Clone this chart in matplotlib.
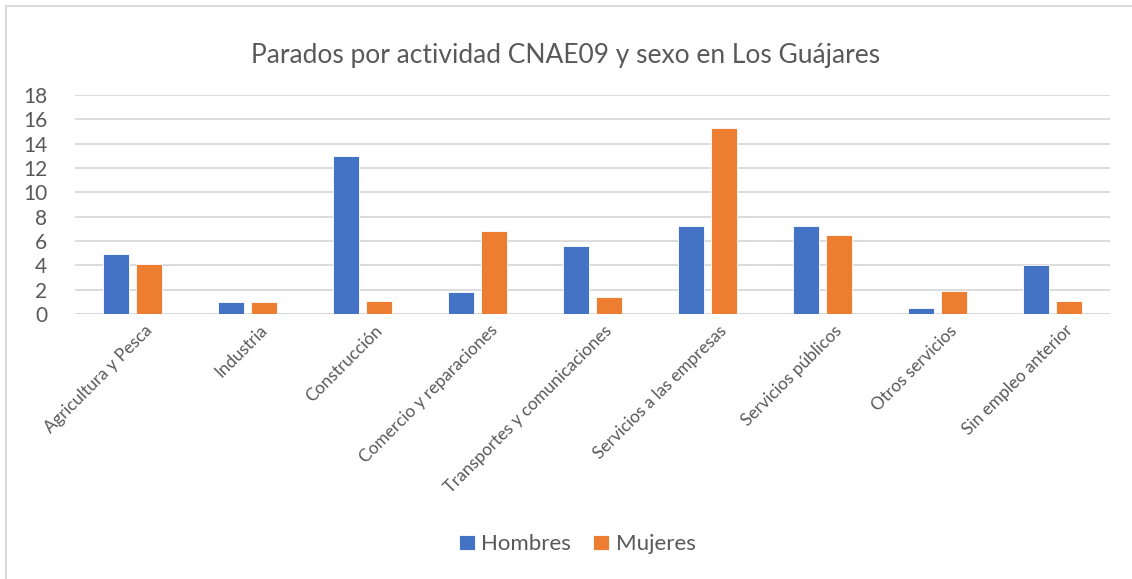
import matplotlib.pyplot as plt
import numpy as np
from matplotlib.patches import Rectangle

plt.rcParams['font.family'] = ['Lato', 'DejaVu Sans']

categorias = ["Agricultura y Pesca", "Industria", "Construcción",
              "Comercio y reparaciones", "Transportes y comunicaciones",
              "Servicios a las empresas", "Servicios públicos",
              "Otros servicios", "Sin empleo anterior"]
hombres = [4.9, 0.97, 12.95, 1.83, 5.57, 7.25, 7.25, 0.5, 4.0]
mujeres = [4.15, 0.97, 1.06, 6.83, 1.41, 15.29, 6.47, 1.9, 1.06]

azul = "#4472C4"
naranja = "#ED7D31"
gris = "#595959"

fig = plt.figure(figsize=(11.32, 5.79), dpi=100)
ax = fig.add_axes([0.0663, 0.4577, 0.9143, 0.3782])

x = np.arange(len(categorias))
ancho = 0.225
ax.bar(x - 0.145, hombres, ancho, color=azul, edgecolor="white", linewidth=0.6,
       label="Hombres", zorder=3)
ax.bar(x + 0.145, mujeres, ancho, color=naranja, edgecolor="white", linewidth=0.6,
       label="Mujeres", zorder=3)

ax.set_xlim(-0.5, len(categorias) - 0.5)
ax.set_ylim(0, 18)
ax.set_yticks(np.arange(0, 19, 2))
ax.grid(axis="y", color="#D9D9D9", linewidth=1.3, zorder=0)
for s in ax.spines.values():
    s.set_visible(False)
ax.axhline(0, color="#D9D9D9", linewidth=1.3, zorder=2)

ax.tick_params(axis="y", length=0, pad=20, labelsize=15, labelcolor=gris)
ax.tick_params(axis="x", length=0, pad=6, labelcolor=gris)
ax.set_xticks(x + 0.1)
ax.set_xticklabels(categorias, rotation=45, ha="right", rotation_mode="anchor",
                   fontsize=12.4)

fig.suptitle("Parados por actividad CNAE09 y sexo en Los Guájares",
             y=0.925, fontsize=19, color=gris)

fig.legend(loc="center", bbox_to_anchor=(0.51, 0.06), ncol=2, frameon=False,
           fontsize=16, labelcolor=gris, handlelength=0.7, handleheight=0.7,
           handletextpad=0.3, columnspacing=1.0)

fig.patches.append(Rectangle((6 / 1132, -0.05), 1.1, 1.05 - 6 / 579,
                             transform=fig.transFigure, fill=False,
                             edgecolor="#D9D9D9", linewidth=1.5))

fig.savefig("out.png", dpi=100)
